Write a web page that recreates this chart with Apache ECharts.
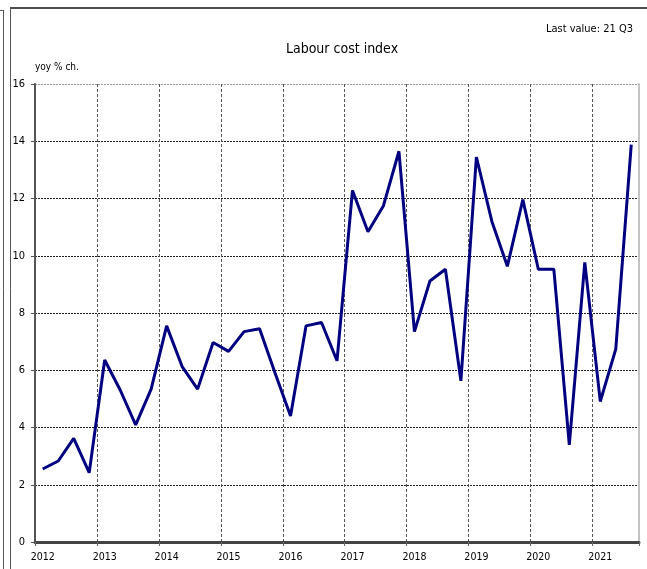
<!DOCTYPE html>
<html>
<head>
<meta charset="utf-8">
<script src="https://cdn.jsdelivr.net/npm/echarts@6/dist/echarts.min.js"></script>
<style>
  html, body { margin: 0; padding: 0; background: #fff; }
  #chart { width: 647px; height: 569px; }
</style>
</head>
<body>
<div id="chart"></div>
<script>
// quarterly labour cost index, yoy % change
const years = ['2012', '2013', '2014', '2015', '2016', '2017', '2018', '2019', '2020', '2021'];
const quarters = ['Q1', 'Q2', 'Q3', 'Q4'];
const values = [
  2.55, 2.83, 3.62, 2.42,
  6.36, 5.31, 4.09, 5.34,
  7.55, 6.13, 5.34, 6.97,
  6.66, 7.35, 7.45, 5.9,
  4.4, 7.55, 7.67, 6.33,
  12.28, 10.84, 11.75, 13.65,
  7.35, 9.12, 9.53, 5.63,
  13.45, 11.2, 9.63, 11.96,
  9.53, 9.53, 3.39, 9.77,
  4.91, 6.74, 13.88
];
const yTicks = [0, 2, 4, 6, 8, 10, 12, 14, 16];

// one category per quarter, 2012 Q1 .. 2021 Q3
const categories = [];
years.forEach(y => quarters.forEach(q => categories.push(y + ' ' + q)));
categories.length = values.length;

const font = '"DejaVu Sans Condensed", "Liberation Sans", sans-serif';

const chart = echarts.init(document.getElementById('chart'));

chart.setOption({
  animation: false,
  backgroundColor: '#fff',
  textStyle: { fontFamily: font },
  title: [
    {
      text: 'Labour cost index',
      left: 337, top: 37, textAlign: 'center',
      textStyle: { fontFamily: font, fontSize: 14, fontWeight: 'normal', color: '#000' }
    },
    {
      text: 'Last value: 21 Q3',
      right: 9, top: 19,
      textStyle: { fontFamily: font, fontSize: 11, fontWeight: 'normal', color: '#000' }
    }
  ],
  graphic: [
    { type: 'line', shape: { x1: 10, y1: 8, x2: 647, y2: 8 }, style: { stroke: '#111', lineWidth: 1.5 } },
    { type: 'line', shape: { x1: 10.5, y1: 8, x2: 10.5, y2: 569 }, style: { stroke: '#555', lineWidth: 1 } },
    { type: 'line', shape: { x1: 0, y1: 10.5, x2: 3.5, y2: 10.5 }, style: { stroke: '#555', lineWidth: 1 } },
    { type: 'line', shape: { x1: 3.5, y1: 10, x2: 3.5, y2: 569 }, style: { stroke: '#555', lineWidth: 1 } }
  ],
  grid: { left: 35, right: 8, top: 84, bottom: 27, containLabel: false },
  xAxis: {
    type: 'category',
    data: categories,
    boundaryGap: true,
    axisLine: { onZero: false, lineStyle: { color: '#444', width: 3 } },
    axisTick: { show: true, interval: 3, length: 4, lineStyle: { color: '#666' } },
    axisLabel: {
      interval: 3,
      margin: 10,
      fontSize: 10.5,
      color: '#000',
      formatter: v => v.split(' ')[0]
    },
    splitLine: {
      show: true,
      interval: 3,
      lineStyle: { color: '#555', width: 1, type: [3, 2] }
    }
  },
  yAxis: [
    {
      type: 'value',
      min: 0, max: 16, interval: 2,
      name: 'yoy % ch.',
      nameLocation: 'end',
      nameGap: 12,
      nameTextStyle: { fontFamily: font, fontSize: 10, color: '#000', align: 'left', verticalAlign: 'bottom' },
      axisLine: { show: true, lineStyle: { color: '#555', width: 2 } },
      axisTick: { show: true, length: 4, lineStyle: { color: '#555' } },
      axisLabel: {
        margin: 10, fontSize: 11, color: '#000',
        formatter: v => (yTicks.indexOf(v) >= 0 ? String(v) : '')
      },
      splitLine: {
        show: true,
        lineStyle: {
          color: ['#222', '#222', '#222', '#222', '#222', '#222', '#222', '#222', '#999'],
          width: 1, type: [2, 1]
        }
      }
    },
    {
      type: 'value',
      position: 'right',
      min: 0, max: 16, interval: 2,
      axisLine: { show: true, lineStyle: { color: '#c4c4c4', width: 2 } },
      axisTick: { show: false },
      axisLabel: { show: false },
      splitLine: { show: false }
    }
  ],
  series: [
    {
      type: 'line',
      data: values,
      yAxisIndex: 0,
      symbol: 'none',
      lineStyle: { color: '#000080', width: 3 },
      z: 5
    }
  ]
});
</script>
</body>
</html>
